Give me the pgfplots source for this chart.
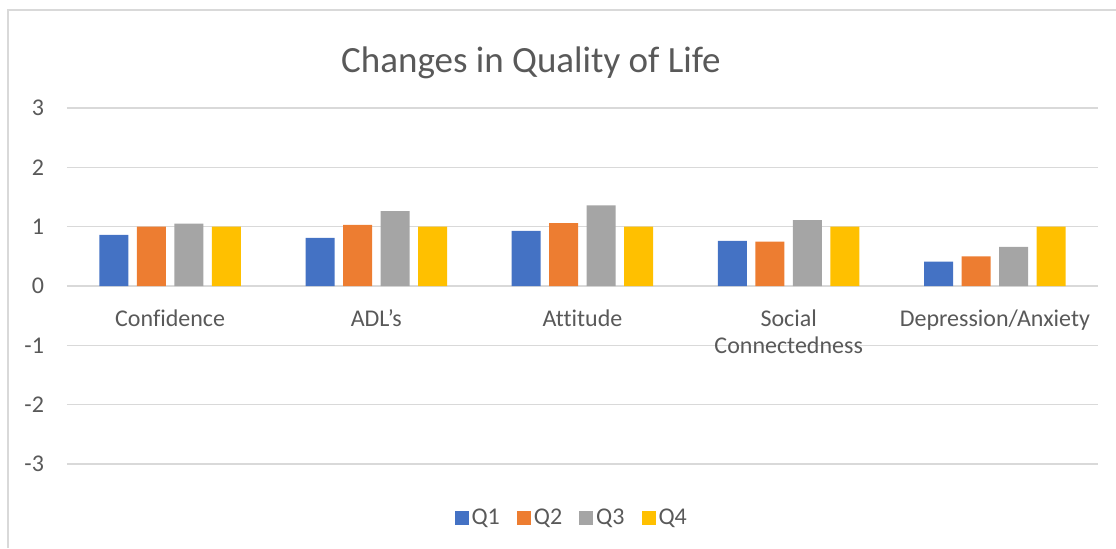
\documentclass[border=0pt]{standalone}
\usepackage{pgfplots}
\pgfplotsset{compat=1.18}
\usepackage{fontspec}
\setmainfont{Carlito}[Ligatures=CommonOff]
\definecolor{txt}{HTML}{595959}
\definecolor{gridc}{HTML}{D9D9D9}
\definecolor{cA}{HTML}{4472C4}
\definecolor{cB}{HTML}{ED7D31}
\definecolor{cC}{HTML}{A5A5A5}
\definecolor{cD}{HTML}{FFC000}
\begin{document}
\begin{tikzpicture}
\path[use as bounding box] (0,0) rectangle (558pt,274pt);
\draw[gridc, line width=1pt] (3.75pt,0) -- (3.75pt,269.25pt) -- (558pt,269.25pt);
\node[anchor=base, font=\fontsize{18.5}{22}\selectfont, text=txt] at (265.5pt,237.65pt) {Changes in Quality of Life};
\begin{axis}[
  at={(33.5pt,42pt)}, anchor=south west,
  scale only axis, width=515.5pt, height=178pt,
  xmin=-0.5, xmax=4.5, ymin=-3, ymax=3,
  ytick={-3,-2,-1,0,1,2,3},
  xtick={0,1,2,3,4},
  xticklabels={Confidence, ADL's, Attitude, {Social\\Connectedness}, Depression/Anxiety},
  ybar=4.25pt, bar width=14.5pt,
  axis line style={draw=none}, major tick length=0pt,
  ymajorgrids, grid style={gridc, line width=0.75pt},
  tick label style={font=\fontsize{12}{13.3}\selectfont, text=txt},
  yticklabel style={xshift=-8pt},
  xticklabel style={align=center, anchor=north, yshift=80.6pt},
  /pgf/number format/assume math mode=true,
  legend columns=4,
  legend style={at={(0.49,-0.1517)}, anchor=center, draw=none, fill=none,
    font=\fontsize{12}{13.3}\selectfont, text=txt,
    nodes={inner sep=1.5pt},
    /tikz/every even column/.append style={column sep=7pt}},
  legend image code/.code={\fill[#1] (0pt,-3.5pt) rectangle (7pt,3.5pt);},
]
\addplot[fill=cA, draw=none] coordinates {(0,0.86) (1,0.81) (2,0.93) (3,0.76) (4,0.41)};
\addplot[fill=cB, draw=none] coordinates {(0,1.00) (1,1.03) (2,1.06) (3,0.75) (4,0.50)};
\addplot[fill=cC, draw=none] coordinates {(0,1.05) (1,1.26) (2,1.36) (3,1.11) (4,0.66)};
\addplot[fill=cD, draw=none] coordinates {(0,1.00) (1,1.00) (2,1.00) (3,1.00) (4,1.00)};
\legend{Q1,Q2,Q3,Q4}
\end{axis}
\end{tikzpicture}
\end{document}
